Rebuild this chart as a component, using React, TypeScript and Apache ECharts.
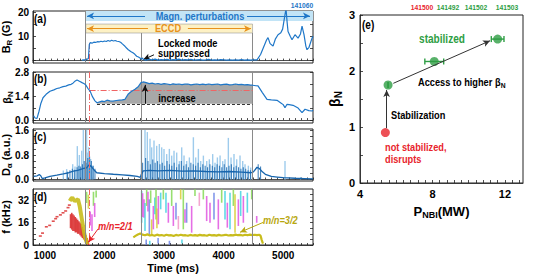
import React, { useEffect, useRef } from 'react';
import * as echarts from 'echarts';

const FONT = '"Liberation Sans Narrow", "Liberation Sans", Arial, sans-serif';
const BLUE = '#1f77c8';
const LIGHTBLUE = '#93c5ea';
const DARKBLUE = '#1765ad';
const RED = '#e8242c';
const GREEN = '#2e9e44';
const OLIVE = '#c8bc1c';
const ORANGE = '#e8921c';
const GRAYLINE = '#8a8a8a';
const REDDASH = '#f06464';
const SEGCOLORS = ['#86d957', '#45d2e2', '#e056e0', '#6f86e6', '#d8cc34', '#f296c8'];

// event times (ms)
const tOnset = 1685;
const tRedLine = 1750;
const tStab = 2620;
const tEnd = 4485;

// axis ticks / labels
const timeLabels = [1000, 2000, 3000, 4000, 5000];
const brTicks = [0, 5, 10, 15, 20];
const brLabels = [0, 10, 20];
const betaTicks = [0, 0.7, 1.4, 2.1, 2.8];
const betaLabels = [0, 1.4, 2.8];
const daTicks = [0, 0.2, 0.4, 0.6, 0.8, 1.0, 1.2, 1.4, 1.6];
const daLabels = [0, 0.8, 1.6];
const fTicks = [0, 4, 8, 12, 16, 20, 24, 28, 32, 36];
const fLabels = [0, 16, 32];

// (a) B_R (G)
const brData: [number, number][] = [
  [1620, 0.2], [1660, 0.3], [1700, 0.4], [1730, 0.9], [1745, 6.6], [1760, 7.4], [1790, 7.2], [1820, 7.6],
  [1850, 7.5], [1880, 7.8], [1910, 7.7], [1940, 8.0], [1970, 7.8], [2000, 8.1], [2030, 7.9], [2060, 8.3],
  [2090, 8.0], [2120, 8.4], [2150, 8.1], [2180, 8.3], [2210, 8.0], [2240, 7.9], [2270, 7.6], [2300, 6.9],
  [2344, 5.9], [2370, 5.2], [2400, 4.5], [2440, 3.8], [2484, 3.1], [2510, 2.6], [2540, 1.8], [2570, 1.5],
  [2596, 1.1], [2620, 0.6], [2640, 1.1], [2652, 0.4], [2700, 0.2], [2750, 0.5], [2800, 0.3], [2850, 0.6],
  [2900, 0.2], [2950, 0.4], [3000, 0.3], [3050, 0.5], [3100, 0.2], [3150, 0.4], [3200, 0.3], [3250, 0.6],
  [3300, 0.2], [3350, 0.4], [3400, 0.3], [3450, 0.5], [3500, 0.2], [3550, 0.3], [3600, 0.4], [3650, 0.2],
  [3700, 0.3], [3750, 0.5], [3800, 0.2], [3850, 0.3], [3900, 0.2], [3950, 0.4], [4000, 0.3], [4050, 0.2],
  [4100, 0.3], [4150, 0.2], [4200, 0.3], [4250, 0.2], [4300, 0.4], [4350, 0.2], [4400, 0.3], [4450, 0.2],
  [4500, 0.3], [4560, 0.3], [4620, 2.5], [4670, 5.5], [4720, 8.5], [4745, 9.5], [4780, 7.0], [4829, 6.0],
  [4870, 9.0], [4913, 10.7], [4960, 11.5], [4990, 13.0], [5030, 19.0], [5047, 21.5], [5065, 16.0], [5081, 12.0],
  [5120, 10.0], [5148, 8.6], [5198, 10.7], [5249, 9.3], [5290, 11.0], [5316, 14.2], [5349, 10.7], [5380, 6.0],
  [5399, 4.5], [5433, 5.5], [5484, 9.3], [5500, 10.0],
];
const magnBand = [16.4, 20.5];
const eccdBand = [11.4, 15.1];

// (b) beta_N
const betaData: [number, number][] = [
  [810, 0.25], [835, 0.12], [867, 0.1], [900, 0.5], [930, 0.95], [968, 1.3], [1020, 1.5], [1085, 1.68],
  [1150, 1.76], [1200, 1.84], [1250, 1.88], [1304, 1.95], [1350, 1.98], [1400, 2.05], [1440, 2.08], [1471, 2.15],
  [1510, 2.28], [1539, 2.34], [1580, 2.26], [1623, 2.18], [1660, 2.12], [1685, 2.05], [1720, 1.85], [1757, 1.7],
  [1800, 1.35], [1840, 1.12], [1874, 1.01], [1920, 1.06], [1958, 1.1], [2000, 1.08], [2042, 1.16], [2090, 1.12],
  [2143, 1.1], [2200, 1.14], [2250, 1.16], [2300, 1.18], [2344, 1.21], [2395, 1.5], [2450, 1.66], [2512, 1.8],
  [2570, 1.96], [2613, 2.18], [2650, 2.22], [2700, 2.18], [2750, 2.12], [2800, 2.15], [2850, 2.1], [2900, 2.13],
  [2950, 2.08], [3000, 2.12], [3050, 2.1], [3100, 2.06], [3150, 2.11], [3200, 2.08], [3250, 2.1], [3300, 2.06],
  [3350, 2.09], [3400, 2.1], [3450, 2.05], [3500, 2.08], [3550, 2.1], [3600, 2.06], [3650, 2.09], [3700, 2.07],
  [3750, 2.1], [3800, 2.06], [3850, 2.08], [3900, 2.1], [3950, 2.05], [4000, 2.08], [4050, 2.09], [4100, 2.05],
  [4150, 2.07], [4200, 2.1], [4250, 2.06], [4300, 2.08], [4350, 2.05], [4400, 2.07], [4450, 2.04], [4485, 2.03],
  [4540, 2.0], [4577, 1.99], [4650, 1.6], [4728, 1.21], [4800, 1.18], [4896, 1.15], [4960, 1.0], [5000, 0.9],
  [5030, 0.72], [5064, 0.92], [5100, 0.9], [5165, 0.86], [5250, 0.7], [5316, 0.43], [5366, 0.63], [5430, 0.55],
  [5484, 0.53], [5500, 0.58],
];
const betaFillStart = 1874;
const betaBase = 0.95;
const betaRef = 1.74;
const arrowT = 2680;
const arrowTop = 2.05;

// (c) D_alpha
const daBase: [number, number][] = [
  [810, 0.1], [870, 0.12], [905, 0.16], [930, 0.12], [955, 0.03], [1000, 0.05], [1085, 0.1], [1200, 0.14],
  [1309, 0.18], [1400, 0.22], [1477, 0.27], [1550, 0.3], [1600, 0.33], [1650, 0.36], [1700, 0.38], [1740, 0.48],
  [1780, 0.42], [1830, 0.3], [1869, 0.22], [2000, 0.19], [2149, 0.17], [2300, 0.15], [2428, 0.13], [2550, 0.1],
  [2600, 0.07], [2615, 0.15], [2650, 0.28], [2750, 0.3], [2900, 0.28], [3100, 0.3], [3300, 0.27], [3500, 0.28],
  [3700, 0.26], [3900, 0.25], [4100, 0.26], [4300, 0.24], [4460, 0.22], [4500, 0.25], [4560, 0.4], [4600, 0.36],
  [4650, 0.25], [4700, 0.17], [4800, 0.1], [4900, 0.08], [5000, 0.06], [5200, 0.04], [5350, 0.03], [5500, 0.02],
];
const daLight: [number, number][] = [
  [1309, 0.29], [1365, 0.34], [1466, 0.5], [1505, 0.42], [1544, 1.09], [1578, 0.8], [1617, 0.94], [1645, 1.62],
  [1700, 1.62], [1712, 0.88], [1735, 1.05], [1768, 0.67], [1802, 0.45],
  [2620, 1.62], [2680, 1.62], [2719, 1.55], [2764, 1.33], [2792, 1.05], [2831, 1.27], [2876, 1.1], [2921, 1.16],
  [2960, 1.05], [2999, 1.0], [3044, 0.83], [3089, 1.0], [3128, 0.78], [3167, 0.94], [3212, 0.88], [3257, 0.6],
  [3296, 1.05], [3335, 0.78], [3380, 0.6], [3425, 0.72], [3492, 1.38], [3531, 0.72], [3576, 1.0], [3615, 0.6],
  [3660, 0.78], [3716, 0.6], [3760, 0.66], [3816, 0.83], [3855, 0.55], [3895, 0.72], [3940, 0.78], [3984, 0.6],
  [4023, 0.66], [4079, 1.36], [4124, 0.72], [4174, 0.83], [4219, 0.66], [4275, 0.78], [4320, 0.6], [4359, 0.5],
  [4415, 0.45], [4454, 0.39], [5030, 0.6], [5294, 0.08],
];
const daDark: [number, number][] = [
  [1380, 0.25], [1420, 0.3], [1460, 0.35], [1500, 0.32], [1540, 0.4], [1570, 0.45], [1600, 0.42], [1630, 0.5],
  [1660, 0.6], [1690, 0.55], [1720, 0.7], [1750, 0.75], [1780, 0.6], [1810, 0.45], [1840, 0.35],
  [2640, 0.55], [2690, 0.7], [2730, 0.6], [2770, 0.5], [2810, 0.65], [2850, 0.55], [2890, 0.6], [2930, 0.5],
  [2970, 0.55], [3010, 0.45], [3050, 0.6], [3090, 0.5], [3130, 0.45], [3170, 0.55], [3210, 0.4], [3250, 0.5],
  [3290, 0.6], [3330, 0.45], [3370, 0.5], [3410, 0.4], [3450, 0.55], [3490, 0.5], [3530, 0.45], [3570, 0.55],
  [3610, 0.4], [3650, 0.5], [3690, 0.45], [3730, 0.4], [3770, 0.5], [3810, 0.45], [3850, 0.4], [3890, 0.5],
  [3930, 0.45], [3970, 0.4], [4010, 0.5], [4050, 0.4], [4090, 0.45], [4130, 0.5], [4170, 0.4], [4210, 0.45],
  [4250, 0.4], [4290, 0.35], [4330, 0.4], [4370, 0.35], [4410, 0.3], [4450, 0.3], [4580, 0.5], [4620, 0.42],
];

// (d) spectrogram features [t, fLow, fHigh, colour index]
const modeSegs: [number, number, number, number][] = [
  [1700, 30, 38, 0], [1730, 26, 36, 4], [1760, 14, 24, 2], [1790, 10, 22, 2], [1815, 28, 38, 0], [1835, 20, 30, 2],
  [1860, 34, 39, 0],
  [2624, 15.9, 38.6, 1], [2640, 20, 37, 2], [2663, 19.5, 32.6, 2], [2680, 10, 30, 1], [2708, 27.9, 39.8, 0],
  [2730, 24, 38, 2], [2753, 6.4, 32.6, 3], [2775, 30, 39, 0], [2792, 7.6, 18.3, 4], [2820, 11.2, 27.9, 2],
  [2845, 22, 34, 1], [2865, 18.3, 39.8, 0], [2880, 12, 26, 4], [2904, 14.8, 35, 2], [2943, 25.5, 37.4, 1],
  [2988, 32.6, 39.8, 0], [3032, 23.1, 37.4, 1], [3072, 15.9, 30.2, 2], [3128, 27.9, 39.8, 0], [3156, 13.6, 27.9, 2],
  [3200, 18.3, 30.2, 3], [3240, 11.2, 20.7, 5], [3279, 32.6, 39.8, 4], [3323, 11.2, 39.8, 0], [3351, 15.9, 25.5, 2],
  [3379, 15.9, 30.2, 3], [3463, 8.8, 27.9, 2], [3519, 35, 39.8, 0], [3592, 27.9, 37.4, 5], [3659, 32.6, 39.8, 0],
  [3715, 17.1, 35, 2], [3771, 15.9, 30.2, 2], [3838, 18.3, 37.4, 3], [3911, 11.2, 32.6, 2], [3967, 30.2, 39.8, 0],
  [4023, 18.3, 38.6, 1], [4062, 12.4, 30.2, 2], [4107, 11.2, 37.4, 1], [4163, 27.9, 39.8, 0], [4191, 8.8, 36.2, 4],
  [4247, 13.6, 32.6, 2], [4286, 20.7, 38.6, 1], [4331, 15.9, 35, 2], [4398, 23.1, 37.4, 1], [4471, 32.6, 39.8, 0],
  [4555, 15.9, 20.7, 2],
  [2700, 0, 4, 3], [2760, 0, 3, 1], [2900, 1, 5, 3], [3090, 0, 3, 3], [3300, 1, 4, 1],
];
const redBlob: [number, number, number][] = [
  [1430, 12, 22], [1450, 11, 23], [1470, 10, 22], [1490, 10, 21], [1510, 9, 20], [1530, 9, 19], [1550, 8, 18],
  [1570, 8, 17], [1590, 7, 16], [1610, 6, 15], [1630, 5, 13], [1650, 4, 11], [1670, 3, 9], [1690, 2, 7],
  [1710, 1, 5], [1730, 0, 3],
];
const redDots: [number, number][] = [
  [923, 6.4], [960, 8.5], [1024, 13], [1080, 14], [1140, 17], [1180, 18.8], [1203, 20.2], [1260, 21.5],
  [1304, 23], [1348, 24.3], [1388, 26.7], [1410, 28.5],
];
const mode21: [number, number][] = [
  [1416, 31.4], [1440, 33], [1460, 33.8], [1480, 32.5], [1500, 31.4], [1530, 32], [1555, 32.6], [1583, 27.9],
  [1611, 20.7], [1639, 13.6], [1660, 8.5], [1684, 4], [1712, 0.6],
];
const mode32: [number, number][] = [
  [2484, 5.5], [2520, 6.5], [2560, 7.5], [2600, 8.2], [2640, 7.4], [2680, 7.0], [2720, 7.6], [2760, 6.8],
  [2800, 7.2], [2840, 6.6], [2880, 7.4], [2920, 6.9], [2960, 7.1], [3000, 6.6], [3040, 7.3], [3080, 6.9],
  [3120, 7.0], [3160, 6.5], [3200, 7.2], [3240, 6.8], [3280, 7.3], [3320, 6.9], [3360, 7.0], [3400, 6.6],
  [3440, 7.2], [3480, 6.8], [3520, 7.1], [3560, 6.7], [3600, 7.2], [3640, 6.9], [3680, 7.0], [3720, 6.6],
  [3760, 7.3], [3800, 6.9], [3840, 7.1], [3880, 6.7], [3920, 7.2], [3960, 6.8], [4000, 7.0], [4040, 7.3],
  [4080, 6.8], [4120, 7.1], [4160, 6.9], [4200, 7.4], [4240, 7.0], [4280, 7.2], [4320, 6.8], [4360, 7.3],
  [4400, 7.0], [4440, 7.4], [4480, 7.1], [4520, 7.3], [4560, 7.0], [4600, 7.3], [4620, 6.5], [4640, 3.5],
  [4660, 1.0],
];

// (e) beta_N vs P_NBI
const redPts: [number, number][] = [[5.4, 0.9]];
const greenPts: [number, number][] = [[5.55, 1.75], [8.1, 2.17], [11.6, 2.57]];
const greenErr = [0, 0.52, 0.35];
const shotLabels = ['141500', '141492', '141502', '141503'];
const shotColors = [RED, GREEN, GREEN, GREEN];
const mainShot = '141060';

const tickLine = { color: '#222', width: 0.8 };
const boldTxt = { fontFamily: FONT, fontWeight: 'bold' as const, color: '#000' };

function richName(size: number) {
  return {
    rich: {
      b: { ...boldTxt, fontSize: size, lineHeight: size + 3, verticalAlign: 'middle' },
      s: { ...boldTxt, fontSize: Math.round(size * 0.7), lineHeight: size + 3, verticalAlign: 'bottom' },
    },
  };
}

function segRenderer(width: number, colorFn: (api: any) => string, opacity = 1) {
  return (params: any, api: any) => {
    const t = api.value(0);
    const lo = api.value(1);
    const hi = api.value(2);
    const top = api.coord([t, hi]);
    const bot = api.coord([t, lo]);
    return {
      type: 'rect',
      shape: { x: top[0] - width / 2, y: top[1], width, height: Math.max(0.6, bot[1] - top[1]) },
      style: { fill: colorFn(api), opacity },
    };
  };
}

function seg(a: number[], b: number[], color: string, type: any = 'solid', arrow = false, width = 1) {
  return [
    { coord: a, symbol: 'none', lineStyle: { color, type, width } },
    { coord: b, symbol: arrow ? 'arrow' : 'none', symbolSize: arrow ? [5, 7] : 0 },
  ];
}

const DASHDOT = [6, 2, 1, 2];

function buildOption() {
  const grids = [
    { left: 33, top: 11, width: 280, height: 52 },
    { left: 33, top: 72, width: 280, height: 51 },
    { left: 33, top: 129, width: 280, height: 52 },
    { left: 33, top: 189, width: 280, height: 56 },
    { left: 360, top: 15, width: 163, height: 168 },
  ].map((g) => ({ ...g, show: true, borderColor: '#222', borderWidth: 1, containLabel: false, outerBoundsMode: 'none' }));

  const xAxes: any[] = [0, 1, 2, 3].map((i) => ({
    type: 'value',
    gridIndex: i,
    min: 800,
    max: 5500,
    interval: 100,
    axisLine: { show: true, lineStyle: tickLine },
    axisTick: { show: true, inside: true, length: 2, lineStyle: tickLine },
    axisLabel:
      i === 3
        ? { show: true, ...boldTxt, fontSize: 10, margin: 5, formatter: (v: number) => (timeLabels.includes(v) ? String(v) : '') }
        : { show: false },
    splitLine: { show: false },
    name: i === 3 ? 'Time (ms)' : '',
    nameLocation: 'middle',
    nameGap: 17,
    nameMoveOverlap: false,
    nameTextStyle: { ...boldTxt, fontSize: 11 },
  }));
  xAxes.push({
    type: 'value',
    gridIndex: 4,
    min: 4,
    max: 13,
    interval: 0.4,
    axisLine: { show: true, lineStyle: tickLine },
    axisTick: { show: true, inside: true, length: 3, lineStyle: tickLine },
    axisLabel: {
      ...boldTxt,
      fontSize: 11,
      margin: 5,
      showMaxLabel: false,
      formatter: (v: number) => (Math.abs(v / 4 - Math.round(v / 4)) < 1e-6 ? String(Math.round(v)) : ''),
    },
    splitLine: { show: false },
    name: '{b|P}{s|NBI}{b|(MW)}',
    nameLocation: 'middle',
    nameGap: 20,
    nameMoveOverlap: false,
    nameTextStyle: richName(13),
  });

  const panelY = [
    { min: -1, max: 20.5, ticks: brTicks, labels: brLabels, fmt: (v: number) => String(v), name: '{b|B}{s|R}{b| (G)}', gap: 20 },
    { min: -0.17, max: 2.8, ticks: betaTicks, labels: betaLabels, fmt: (v: number) => v.toFixed(1), name: '{b|β}{s|N}', gap: 19 },
    { min: -0.05, max: 1.65, ticks: daTicks, labels: daLabels, fmt: (v: number) => v.toFixed(1), name: '{b|D}{s|α}{b| (a.u.)}', gap: 20 },
    { min: 0, max: 40, ticks: fTicks, labels: fLabels, fmt: (v: number) => String(v), name: '{b|f (kHz)}', gap: 20 },
  ];
  const yAxes: any[] = panelY.map((p, i) => ({
    type: 'value',
    gridIndex: i,
    min: p.min,
    max: p.max,
    position: 'left',
    axisLine: { show: true, lineStyle: tickLine },
    axisTick: { show: true, inside: true, length: 3, customValues: p.ticks, lineStyle: tickLine },
    axisLabel: { show: true, customValues: p.labels, formatter: p.fmt, ...boldTxt, fontSize: 10, margin: 4 },
    splitLine: { show: false },
    name: p.name,
    nameLocation: 'middle',
    nameGap: p.gap,
    nameMoveOverlap: false,
    nameTextStyle: richName(11),
  }));
  yAxes.push({
    type: 'value',
    gridIndex: 4,
    min: 0,
    max: 3,
    interval: 0.5,
    axisLine: { show: true, lineStyle: tickLine },
    axisTick: { show: true, inside: true, length: 3, lineStyle: tickLine },
    axisLabel: {
      ...boldTxt,
      fontSize: 11,
      margin: 5,
      formatter: (v: number) => (Math.abs(v - Math.round(v)) < 1e-6 ? String(Math.round(v)) : ''),
    },
    splitLine: { show: false },
    name: '{b|β}{s|N}',
    nameLocation: 'middle',
    nameGap: 17,
    nameMoveOverlap: false,
    nameTextStyle: richName(14),
  });
  panelY.forEach((p, i) => {
    yAxes.push({
      type: 'value',
      gridIndex: i,
      min: p.min,
      max: p.max,
      position: 'right',
      axisLine: { show: false },
      axisTick: { show: true, inside: true, length: 3, customValues: p.ticks, lineStyle: tickLine },
      axisLabel: { show: false },
      splitLine: { show: false },
    });
  });

  const vlines = (ymin: number, ymax: number, redTop?: number) => [
    seg([tOnset, ymax], [tOnset, ymin], GRAYLINE),
    seg([tStab, ymax], [tStab, ymin], GRAYLINE),
    seg([tEnd, ymax], [tEnd, ymin], GRAYLINE),
    seg([tRedLine, redTop ?? ymax], [tRedLine, ymin], REDDASH, DASHDOT),
  ];

  const markLineBase = { silent: true, symbol: ['none', 'none'], label: { show: false }, animation: false };

  const betaFill = betaData.filter((d) => d[0] >= betaFillStart && d[0] <= tEnd);

  const series: any[] = [
    // (a)
    {
      type: 'line',
      xAxisIndex: 0,
      yAxisIndex: 0,
      data: brData,
      showSymbol: false,
      symbol: 'none',
      lineStyle: { color: BLUE, width: 1.2 },
      z: 5,
      markArea: {
        silent: true,
        data: [
          [{ coord: [tOnset, magnBand[0]], itemStyle: { color: '#c2e4f6' } }, { coord: [5500, magnBand[1]] }],
          [
            { coord: [tOnset, eccdBand[0]], itemStyle: { color: '#fdf1c4', borderColor: '#999', borderWidth: 0.6 } },
            { coord: [tEnd, eccdBand[1]] },
          ],
        ],
      },
      markLine: {
        ...markLineBase,
        data: [
          seg([tOnset, 20.5], [tOnset, -1], GRAYLINE),
          seg([tStab, 11.4], [tStab, -1], GRAYLINE),
          seg([tEnd, 11.4], [tEnd, -1], GRAYLINE),
          seg([tRedLine, 7.3], [tRedLine, -1], REDDASH, DASHDOT),
          seg([2680, 18.45], [1707, 18.45], BLUE, 'solid', true),
          seg([4392, 18.45], [5450, 18.45], BLUE, 'solid', true),
          seg([2730, 13.2], [1707, 13.2], ORANGE, 'solid', true),
          seg([3400, 13.2], [4460, 13.2], ORANGE, 'solid', true),
          seg([2831, 2.4], [2652, 0.4], '#111', 'solid', true),
        ],
      },
    },
    // (b)
    {
      type: 'custom',
      xAxisIndex: 1,
      yAxisIndex: 1,
      data: [[betaFillStart, betaBase]],
      encode: { x: 0, y: 1 },
      renderItem: (params: any, api: any) => {
        const pts = betaFill.map((d) => api.coord(d));
        pts.push(api.coord([tEnd, betaBase]));
        pts.push(api.coord([betaFillStart, betaBase]));
        return { type: 'polygon', shape: { points: pts }, style: { fill: '#a8a8a8' } };
      },
      z: 2,
    },
    {
      type: 'line',
      xAxisIndex: 1,
      yAxisIndex: 1,
      data: betaData,
      symbol: 'none',
      lineStyle: { color: BLUE, width: 1.2 },
      z: 5,
      markLine: {
        ...markLineBase,
        data: [
          ...vlines(-0.17, 2.8),
          seg([betaFillStart, betaBase], [tEnd, betaBase], '#333', [3, 2]),
          seg([tRedLine, betaRef], [tEnd, betaRef], REDDASH, DASHDOT),
          seg([arrowT, betaBase], [arrowT, arrowTop], '#111', 'solid', true),
        ],
      },
    },
    // (c)
    {
      type: 'custom',
      xAxisIndex: 2,
      yAxisIndex: 2,
      data: daLight.map((d) => [d[0], 0, d[1]]),
      encode: { x: 0, y: [1, 2] },
      renderItem: segRenderer(1.4, () => LIGHTBLUE, 0.9),
      z: 2,
    },
    {
      type: 'custom',
      xAxisIndex: 2,
      yAxisIndex: 2,
      data: daDark.map((d) => [d[0], 0, d[1]]),
      encode: { x: 0, y: [1, 2] },
      renderItem: segRenderer(1.1, () => DARKBLUE, 0.8),
      z: 3,
    },
    {
      type: 'line',
      xAxisIndex: 2,
      yAxisIndex: 2,
      data: daBase,
      symbol: 'none',
      lineStyle: { color: DARKBLUE, width: 1.3 },
      z: 4,
      markLine: { ...markLineBase, data: vlines(-0.05, 1.65) },
    },
    // (d)
    {
      type: 'custom',
      xAxisIndex: 3,
      yAxisIndex: 3,
      data: modeSegs,
      encode: { x: 0, y: [1, 2] },
      renderItem: segRenderer(1.6, (api) => SEGCOLORS[api.value(3)], 0.85),
      z: 2,
    },
    {
      type: 'custom',
      xAxisIndex: 3,
      yAxisIndex: 3,
      data: redBlob,
      encode: { x: 0, y: [1, 2] },
      renderItem: segRenderer(1.6, () => '#d82626', 0.85),
      z: 3,
    },
    {
      type: 'scatter',
      xAxisIndex: 3,
      yAxisIndex: 3,
      data: redDots,
      symbol: 'rect',
      symbolSize: [3, 1.6],
      itemStyle: { color: '#d82626' },
      z: 3,
    },
    {
      type: 'line',
      xAxisIndex: 3,
      yAxisIndex: 3,
      data: mode21,
      symbol: 'none',
      lineStyle: { color: OLIVE, width: 4, opacity: 0.9 },
      z: 4,
    },
    {
      type: 'line',
      xAxisIndex: 3,
      yAxisIndex: 3,
      data: mode32,
      symbol: 'none',
      lineStyle: { color: OLIVE, width: 2.2 },
      z: 4,
      markLine: {
        ...markLineBase,
        data: [
          ...vlines(0, 40),
          seg([1891, 11.4], [1728, 1.9], RED, 'solid', true),
          seg([4666, 16.2], [4275, 9.1], '#b8a810', 'solid', true),
        ],
      },
    },
    // (e)
    {
      type: 'custom',
      xAxisIndex: 4,
      yAxisIndex: 4,
      data: greenPts.map((p, i) => [p[0], p[1], greenErr[i]]),
      encode: { x: 0, y: 1 },
      renderItem: (params: any, api: any) => {
        const x = api.value(0);
        const y = api.value(1);
        const e = api.value(2);
        const a = api.coord([x - e, y]);
        const b = api.coord([x + e, y]);
        const st = { stroke: GREEN, lineWidth: 1.4 };
        return {
          type: 'group',
          children: [
            { type: 'line', shape: { x1: a[0], y1: a[1], x2: b[0], y2: b[1] }, style: st },
            { type: 'line', shape: { x1: a[0], y1: a[1] - 3, x2: a[0], y2: a[1] + 3 }, style: st },
            { type: 'line', shape: { x1: b[0], y1: b[1] - 3, x2: b[0], y2: b[1] + 3 }, style: st },
          ],
        };
      },
      z: 2,
    },
    {
      type: 'scatter',
      xAxisIndex: 4,
      yAxisIndex: 4,
      data: redPts,
      symbolSize: 9,
      itemStyle: { color: RED },
      z: 4,
    },
    {
      type: 'scatter',
      xAxisIndex: 4,
      yAxisIndex: 4,
      data: greenPts,
      symbolSize: 9,
      itemStyle: { color: GREEN },
      z: 4,
      markLine: {
        ...markLineBase,
        data: [
          seg([5.47, 0.98], [5.47, 1.66], '#333', 'solid', true),
          seg([5.84, 1.78], [11.18, 2.54], '#333', 'solid', true),
        ],
      },
    },
  ];

  const NARROW = 0.84;
  const T = (text: string, x: number, y: number, size: number, color = '#000', align = 'left', extra: any = {}) => ({
    type: 'text',
    x,
    y,
    scaleX: NARROW,
    silent: true,
    z: 100,
    style: {
      text,
      fill: color,
      fontSize: size,
      fontWeight: 'bold',
      fontFamily: FONT,
      align,
      verticalAlign: 'middle',
      textAlign: align,
      textVerticalAlign: 'middle',
      ...extra,
    },
  });

  const shotX = [422, 448, 476, 507];
  const graphic: any[] = [
    T('(a)', 34, 19, 12),
    T('(b)', 34, 79, 12),
    T('(c)', 34, 137, 12),
    T('(d)', 34, 197, 12),
    T('(e)', 362, 25, 12),
    T('Magn. perturbations', 200, 16.5, 11, BLUE, 'center'),
    T('ECCD', 168, 28.5, 11, ORANGE, 'center'),
    T(mainShot, 302, 5, 8, BLUE, 'center'),
    ...shotLabels.map((s, i) => T(s, shotX[i], 7, 8, shotColors[i], 'center')),
    T('Locked mode', 158, 43, 11),
    T('suppressed', 158, 53.5, 11),
    T('increase', 177, 98, 11, '#000', 'center'),
    T('m/n=2/1', 98, 226, 11, RED, 'left', { fontStyle: 'italic' }),
    T('m/n=3/2', 263, 220, 11, '#b8a810', 'left', { fontStyle: 'italic' }),
    T('stabilized', 442, 39, 12, GREEN, 'center'),
    {
      type: 'text',
      x: 418,
      y: 82,
      scaleX: NARROW,
      silent: true,
      z: 100,
      style: {
        text: '{b|Access to higher β}{s|N}',
        align: 'left',
        verticalAlign: 'middle',
        textAlign: 'left',
        textVerticalAlign: 'middle',
        rich: {
          b: { fontSize: 11, fontWeight: 'bold', fontFamily: FONT, fill: '#000', lineHeight: 14, verticalAlign: 'middle' },
          s: { fontSize: 8, fontWeight: 'bold', fontFamily: FONT, fill: '#000', lineHeight: 14, verticalAlign: 'bottom' },
        },
      },
    },
    T('Stabilization', 391, 115, 11),
    T('not stabilized,', 385, 147, 11, RED),
    T('disrupts', 385, 159, 11, RED),
  ];

  return {
    animation: false,
    backgroundColor: '#fff',
    grid: grids,
    xAxis: xAxes,
    yAxis: yAxes,
    series,
    graphic,
  };
}

export default function App() {
  const ref = useRef<HTMLDivElement>(null);
  useEffect(() => {
    if (!ref.current) return;
    const chart = echarts.init(ref.current, null, { renderer: 'svg' });
    chart.setOption(buildOption() as any);
    return () => chart.dispose();
  }, []);
  return <div ref={ref} style={{ position: 'fixed', left: 0, top: 0, width: 533, height: 276 }} />;
}
